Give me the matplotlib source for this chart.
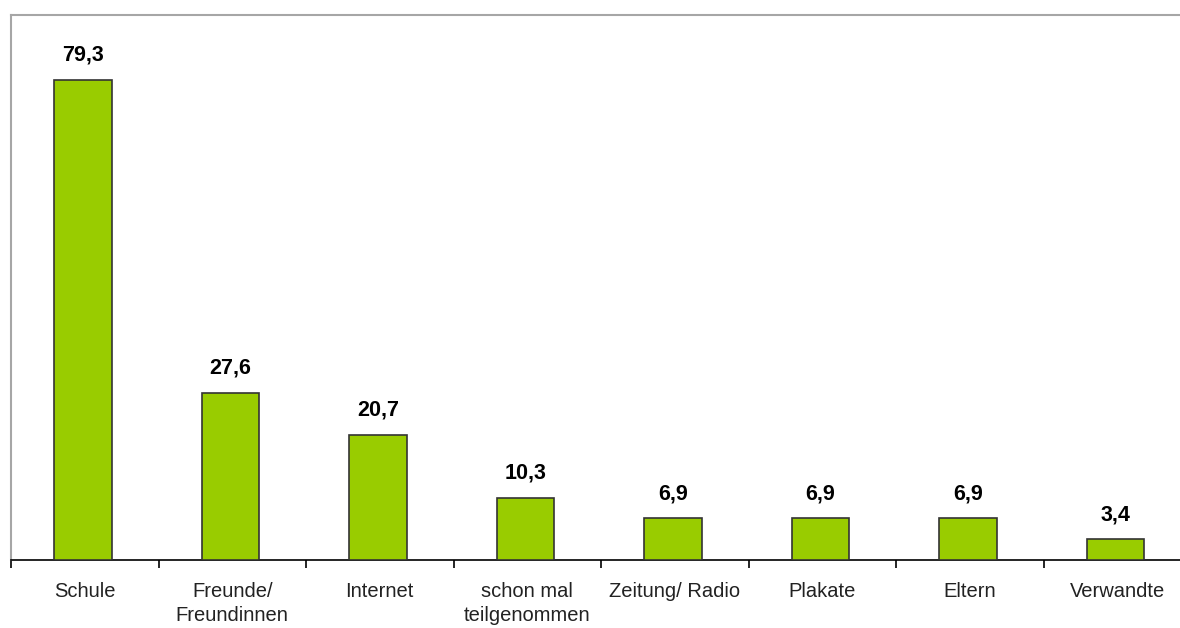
import matplotlib.pyplot as plt
import numpy as np

categories = ['Schule', 'Freunde/\nFreundinnen', 'Internet', 'schon mal\nteilgenommen',
              'Zeitung/ Radio', 'Plakate', 'Eltern', 'Verwandte']
values = [79.3, 27.6, 20.7, 10.3, 6.9, 6.9, 6.9, 3.4]
value_labels = ['79,3', '27,6', '20,7', '10,3', '6,9', '6,9', '6,9', '3,4']

plt.rcParams['font.family'] = ['Liberation Sans', 'DejaVu Sans']

W, H = 1180, 628
fig = plt.figure(figsize=(W / 100, H / 100), dpi=100)
ax = fig.add_axes([11 / W, (H - 560) / H, (1191 - 11) / W, (560 - 15) / H])

x = np.arange(len(categories))
ax.bar(x - 0.012, values, width=0.39, color='#99cc00', edgecolor='#333333', linewidth=1.2, zorder=3)

for xi, v, lab in zip(x, values, value_labels):
    ax.annotate(lab, (xi - 0.012, v), xytext=(0, 10), textcoords='offset points',
                ha='center', va='bottom', fontsize=15.5, fontweight='bold', color='black')

ax.set_xlim(-0.5, len(categories) - 0.5)
ax.set_ylim(0, 90)

ax.set_xticks(x)
ax.set_xticklabels(categories, fontsize=14.5, color='#222222', linespacing=1.3)
ax.tick_params(axis='x', which='major', length=0, pad=16)
ax.set_xticks(np.arange(-0.5, len(categories) - 0.5, 1.0), minor=True)
ax.tick_params(axis='x', which='minor', length=6, width=1.2, color='black', direction='out')
ax.set_yticks([])

for side in ['top', 'left', 'right']:
    ax.spines[side].set_color('#a6a6a6')
    ax.spines[side].set_linewidth(1.5)
ax.spines['bottom'].set_color('black')
ax.spines['bottom'].set_linewidth(1.2)

fig.savefig('out.png', dpi=100, facecolor='white')
